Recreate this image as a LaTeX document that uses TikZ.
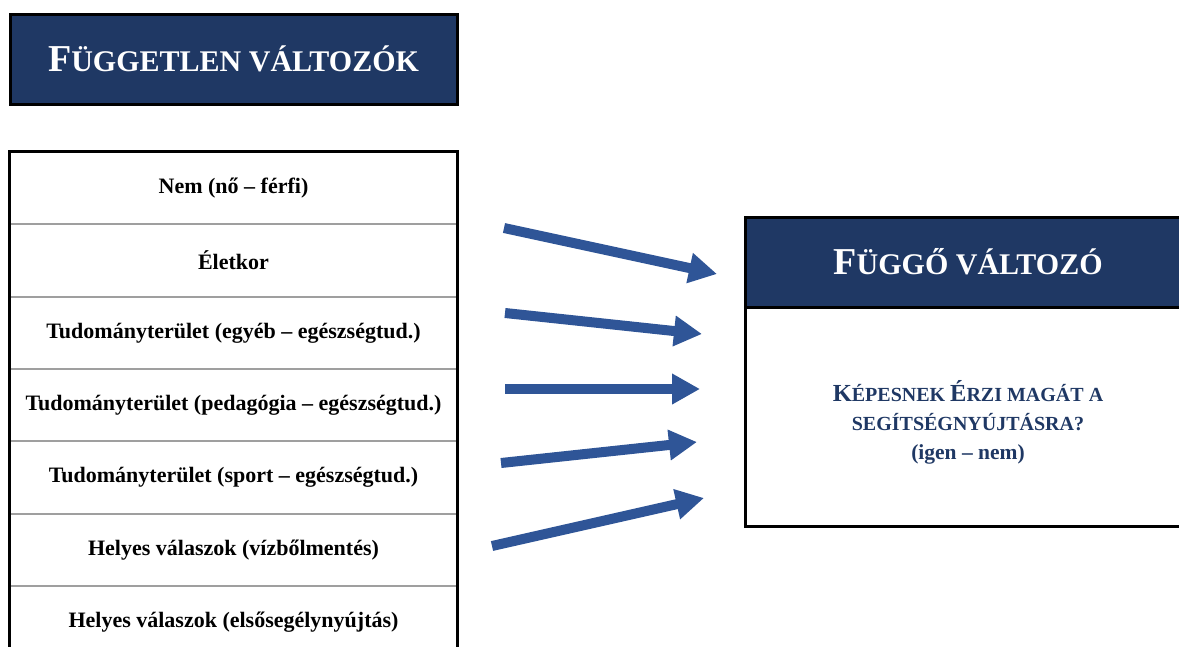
\documentclass[tikz,border=0pt]{standalone}
\usepackage{fontspec}
\setmainfont{Liberation Serif}
\usepackage{tikz}
\usetikzlibrary{arrows.meta, positioning}

\definecolor{navy}{RGB}{31,56,100}
\definecolor{arrowblue}{RGB}{47,85,151}
\newcommand{\capbig}{\fontsize{38}{38}\selectfont}
\newcommand{\capsmall}{\fontsize{30}{30}\selectfont}
\newcommand{\txtbig}{\fontsize{24.5}{29}\selectfont}
\newcommand{\txtsmall}{\fontsize{20}{29}\selectfont}

\begin{document}
\begin{tikzpicture}[x=1pt, y=-1pt,
    cell/.style={draw=gray!75, line width=1pt, minimum width=447pt, minimum height=71.4pt, inner sep=0pt, font=\bfseries\fontsize{22}{26}\selectfont},
    header/.style={draw=black, line width=3pt, fill=navy, text=white, font=\bfseries},
    bigarrow/.style={draw=arrowblue, line width=10pt, -{Triangle[length=28pt, width=29pt]}}]
        \useasboundingbox (0,0) rectangle (1179,646);
        \clip (0,0) rectangle (1179,646);
        % independent variables
        \node[header, minimum width=447pt, minimum height=90pt] (indep) at (233.5,59) {\capbig F\capsmall ÜGGETLEN VÁLTOZÓK};
        \node[cell] (r1) at (233.5,188) {Nem (nő – férfi)};
        \node[cell, below=0pt of r1] (r2) {Életkor};
        \node[cell, below=0pt of r2] (r3) {Tudományterület (egyéb – egészségtud.)};
        \node[cell, below=0pt of r3] (r4) {Tudományterület (pedagógia – egészségtud.)};
        \node[cell, below=0pt of r4] (r5) {Tudományterület (sport – egészségtud.)};
        \node[cell, below=0pt of r5] (r6) {Helyes válaszok (vízbőlmentés)};
        \node[cell, below=0pt of r6] (r7) {Helyes válaszok (elsősegélynyújtás)};
        \draw[line width=3pt] (r1.north west) rectangle (r7.south east);
        % dependent variable
        \node[draw, line width=3pt, minimum width=446pt, minimum height=219pt] (depbody) at (968,416.5) {};
        \node[header, minimum width=446pt, minimum height=90pt] (dep) at (968,262) {\capbig F\capsmall ÜGGŐ VÁLTOZÓ};
        \node[align=center, text=navy, font=\bfseries\txtsmall] (deptext) at (968,422) {{\txtbig K}ÉPESNEK {\txtbig É}RZI MAGÁT A\\SEGÍTSÉGNYÚJTÁSRA?\\{\fontsize{21.5}{29}\selectfont(igen – nem)}};
        % arrows
        \coordinate (s1) at (504,228); \coordinate (t1) at (717,274);
        \coordinate (s2) at (505,313); \coordinate (t2) at (702,334);
        \coordinate (s3) at (505,389); \coordinate (t3) at (700,389);
        \coordinate (s4) at (501,463); \coordinate (t4) at (697,442);
        \coordinate (s5) at (492,546); \coordinate (t5) at (704,498);
        \foreach \i in {1,...,5}
            \draw[bigarrow] (s\i) -- (t\i);
    \end{tikzpicture}
\end{document}
